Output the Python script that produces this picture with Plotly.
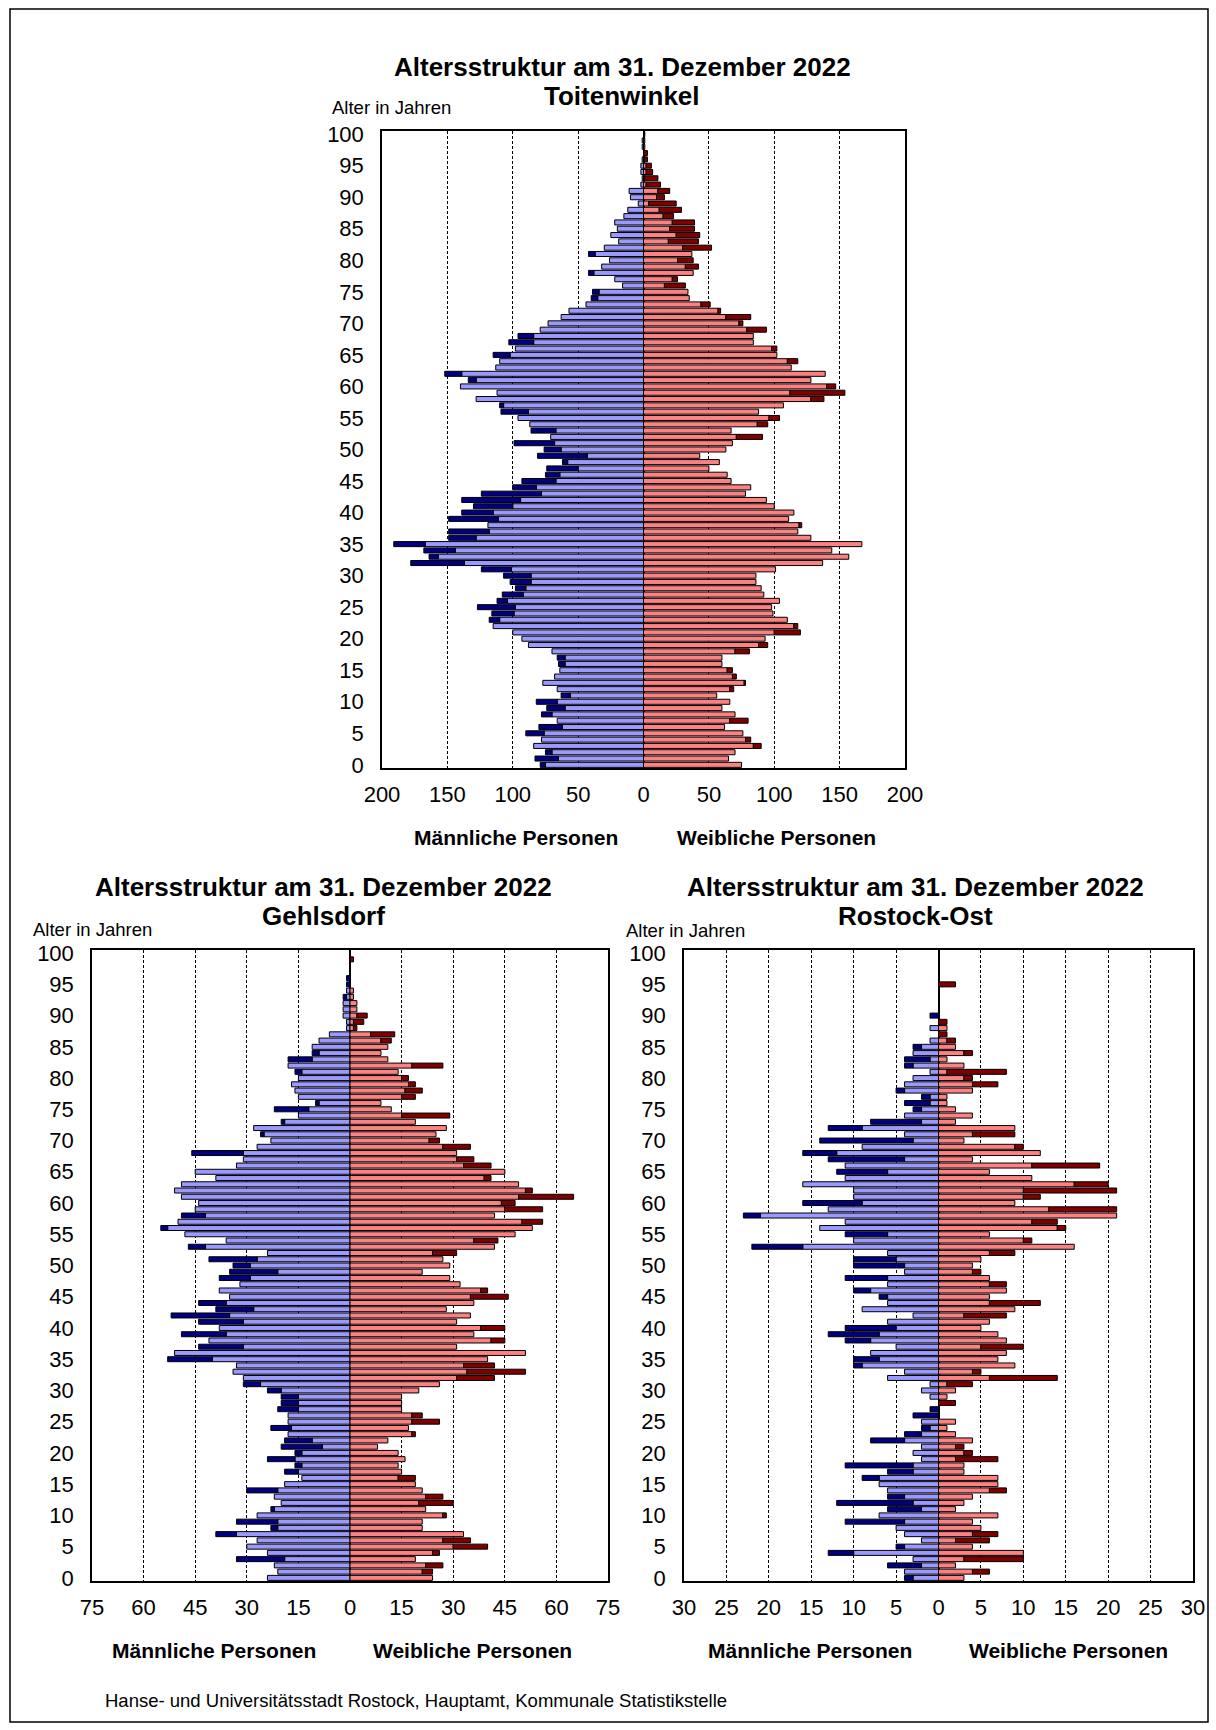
import numpy as np
import plotly.graph_objects as go

W, H = 1216, 1730

ages = list(range(101))

# Toitenwinkel, age 0..100
toit_m = [79, 83, 75, 84, 78, 90, 80, 66, 78, 74, 82, 63, 66, 77, 68, 64, 65, 66, 70, 88,
          93, 100, 115, 118, 116, 127, 112, 108, 98, 102, 107, 124, 178, 164, 168, 191, 149, 149, 119, 149,
          139, 130, 139, 124, 100, 93, 75, 74, 62, 81, 76, 99, 71, 86, 87, 96, 109, 110, 128, 112,
          140, 134, 152, 113, 110, 115, 98, 103, 96, 79, 73, 63, 57, 44, 40, 39, 16, 22, 42, 32,
          26, 42, 30, 19, 25, 20, 22, 15, 12, 4, 10, 11, 2, 1, 2, 2, 1, 0, 1, 1, 0]
toit_f = [75, 65, 70, 90, 82, 76, 62, 80, 70, 60, 66, 56, 69, 78, 71, 68, 60, 60, 81, 95,
          93, 120, 118, 110, 99, 98, 104, 92, 90, 86, 86, 101, 137, 157, 144, 167, 128, 118, 121, 111,
          115, 100, 94, 78, 82, 67, 64, 50, 58, 43, 63, 68, 91, 67, 95, 104, 88, 107, 138, 154,
          147, 128, 139, 113, 118, 102, 102, 84, 84, 94, 76, 82, 59, 51, 35, 34, 32, 26, 38, 42,
          38, 37, 52, 42, 43, 39, 39, 23, 29, 25, 16, 20, 13, 11, 7, 6, 3, 3, 1, 1, 1]

# Gehlsdorf
gehl_m = [24, 21, 22, 33, 24, 30, 27, 39, 23, 33, 27, 23, 20, 22, 30, 19, 14, 19, 16, 24,
          16, 20, 19, 18, 23, 18, 18, 21, 20, 20, 24, 31, 31, 34, 33, 53, 51, 44, 41, 49,
          38, 44, 52, 39, 44, 35, 38, 32, 38, 35, 34, 41, 24, 47, 36, 48, 55, 50, 49, 45,
          44, 49, 51, 49, 39, 45, 33, 31, 46, 27, 23, 26, 28, 20, 15, 22, 10, 15, 16, 17,
          15, 16, 18, 18, 11, 11, 9, 6, 1, 1, 2, 2, 2, 2, 1, 1, 1, 0, 0, 0, 0]
gehl_f = [24, 24, 27, 19, 26, 40, 35, 33, 21, 21, 28, 22, 30, 27, 21, 19, 19, 15, 14, 16,
          14, 8, 11, 19, 17, 26, 21, 15, 15, 15, 20, 26, 42, 51, 42, 40, 51, 31, 45, 36,
          45, 31, 35, 28, 36, 46, 40, 32, 29, 21, 29, 27, 31, 42, 43, 48, 53, 56, 42, 56,
          48, 65, 53, 49, 41, 45, 41, 36, 31, 35, 26, 25, 28, 19, 29, 12, 9, 19, 21, 19,
          17, 14, 27, 11, 9, 11, 12, 13, 2, 4, 5, 2, 2, 1, 1, 0, 0, 0, 0, 1, 0]

# Rostock-Ost
ost_m = [4, 4, 6, 3, 13, 5, 2, 4, 5, 11, 7, 6, 12, 6, 6, 7, 9, 6, 11, 2,
         3, 2, 8, 4, 2, 2, 3, 1, 0, 1, 2, 1, 6, 4, 10, 10, 8, 5, 11, 13,
         11, 6, 3, 9, 6, 7, 10, 6, 11, 4, 10, 10, 6, 22, 10, 11, 14, 11, 23, 13,
         16, 10, 10, 16, 11, 12, 11, 13, 16, 9, 14, 4, 13, 8, 4, 3, 4, 2, 5, 4,
         3, 1, 4, 4, 3, 3, 1, 0, 1, 0, 1, 0, 0, 0, 0, 0, 0, 0, 0, 0, 0]
ost_f = [3, 6, 2, 10, 10, 4, 6, 7, 5, 4, 7, 2, 3, 4, 8, 7, 7, 3, 3, 7,
         4, 3, 4, 2, 1, 2, 0, 0, 2, 1, 2, 4, 14, 5, 9, 7, 8, 10, 8, 7,
         5, 6, 8, 9, 12, 6, 8, 8, 6, 5, 4, 5, 9, 16, 11, 6, 15, 14, 21, 21,
         9, 12, 21, 20, 11, 6, 19, 4, 12, 10, 3, 9, 9, 2, 4, 2, 1, 1, 4, 7,
         4, 8, 3, 1, 4, 2, 2, 1, 1, 1, 0, 0, 0, 0, 0, 2, 0, 0, 0, 0, 0]

TITLE = "Altersstruktur am 31. Dezember 2022"
FONT = "Arial, Liberation Sans, sans-serif"

LIGHT_M = "#9999FF"
DARK_M = "#000080"
LIGHT_F = "#FF8080"
DARK_F = "#800000"


def px(x):
    return x / W


def py(y):
    return 1 - y / H


panels = [
    dict(name="Toitenwinkel", m=toit_m, f=toit_f, xmax=200, step=50,
         xd=(382, 905), yd=(131, 768), tx=622, ty=67, alt=(330, 108),
         labm=516, labf=776, laby=838),
    dict(name="Gehlsdorf", m=gehl_m, f=gehl_f, xmax=75, step=15,
         xd=(92, 608), yd=(950, 1581), tx=323, ty=887, alt=(31, 929),
         labm=214, labf=472, laby=1650),
    dict(name="Rostock-Ost", m=ost_m, f=ost_f, xmax=30, step=5,
         xd=(684, 1193), yd=(950, 1581), tx=915, ty=887, alt=(624, 930),
         labm=810, labf=1068, laby=1650),
]

fig = go.Figure()
annotations = []

for i, p in enumerate(panels):
    sfx = "" if i == 0 else str(i + 1)
    m = np.array(p["m"])
    f = np.array(p["f"])
    # light bar = the part both sexes share, dark bar = surplus of one sex
    common = np.minimum(m, f)
    extra_m = m - common
    extra_f = f - common

    line = dict(color="black", width=1)
    for vals, col in [(-common, LIGHT_M), (-extra_m, DARK_M),
                      (common, LIGHT_F), (extra_f, DARK_F)]:
        fig.add_trace(go.Bar(
            x=[v if v != 0 else None for v in vals], y=ages, orientation="h",
            marker=dict(color=col, line=line),
            xaxis="x" + sfx, yaxis="y" + sfx,
            showlegend=False, hoverinfo="skip",
        ))

    xmax, step = p["xmax"], p["step"]
    tv = list(range(-xmax, xmax + 1, step))
    fig.update_layout(**{
        "xaxis" + sfx: dict(
            domain=[px(p["xd"][0]), px(p["xd"][1])],
            anchor="y" + sfx, range=[-xmax, xmax], automargin=False,
            tickvals=tv, ticktext=[str(abs(v)) for v in tv],
            showgrid=True, gridcolor="black", gridwidth=1, griddash="3px,2px",
            zeroline=True, zerolinecolor="black", zerolinewidth=1.5,
            showline=True, mirror=True, linecolor="black", linewidth=1.5,
            ticks="", ticklabelstandoff=6,
            tickfont=dict(size=22, color="black", family=FONT),
        ),
        "yaxis" + sfx: dict(
            domain=[py(p["yd"][1]), py(p["yd"][0])],
            anchor="x" + sfx, range=[-0.5, 100.5], automargin=False,
            tickvals=list(range(0, 101, 5)),
            showgrid=False, zeroline=False,
            showline=True, mirror=True, linecolor="black", linewidth=1.5,
            ticks="", ticklabelstandoff=12,
            tickfont=dict(size=22, color="black", family=FONT),
        ),
    })

    annotations += [
        dict(text="<b>%s</b>" % TITLE, x=px(p["tx"]), y=py(p["ty"]),
             font=dict(size=26)),
        dict(text="<b>%s</b>" % p["name"], x=px(p["tx"]), y=py(p["ty"] + 29),
             font=dict(size=26)),
        dict(text="Alter in Jahren", x=px(p["alt"][0]), y=py(p["alt"][1]),
             xanchor="left", font=dict(size=18.5)),
        dict(text="<b>Männliche Personen</b>", x=px(p["labm"]), y=py(p["laby"]),
             font=dict(size=21)),
        dict(text="<b>Weibliche Personen</b>", x=px(p["labf"]), y=py(p["laby"]),
             font=dict(size=21)),
    ]

annotations.append(dict(
    text="Hanse- und Universitätsstadt Rostock, Hauptamt, Kommunale Statistikstelle",
    x=px(103), y=py(1700), xanchor="left", font=dict(size=18.5)))

for a in annotations:
    a.setdefault("xanchor", "center")
    a.update(xref="paper", yref="paper", yanchor="middle", showarrow=False)
    a["font"].update(family=FONT, color="black")

fig.update_layout(
    width=W, height=H,
    margin=dict(l=0, r=0, t=0, b=0, autoexpand=False),
    paper_bgcolor="white", plot_bgcolor="white",
    barmode="relative", bargap=0.2,
    font=dict(family=FONT, color="black"),
    annotations=annotations,
    shapes=[dict(type="rect", xref="paper", yref="paper",
                 x0=px(10), x1=px(1208), y0=py(1722), y1=py(9),
                 line=dict(color="black", width=1.5))],
)

fig.write_html("out.html", config={"displayModeBar": False},
               post_script="document.body.style.margin='0';")
